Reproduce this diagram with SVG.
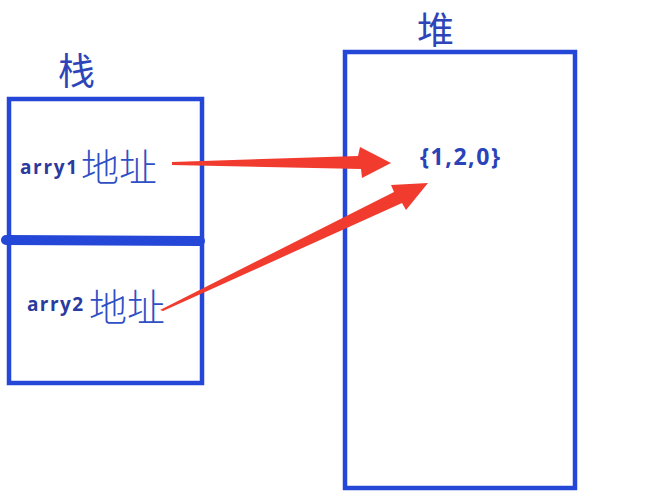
<svg xmlns="http://www.w3.org/2000/svg" width="652" height="502" viewBox="0 0 652 502">
<style>
.box{fill:none;stroke:#2447d8;stroke-width:4.5}
.title{font-family:"Noto Sans CJK SC","Noto Sans",sans-serif;fill:#2d45b8;font-size:37px}
.lbl{font-family:"Open Sans","Noto Sans",sans-serif;font-weight:bold;fill:#2a3a9e;font-size:19px}
.addr{font-family:"Noto Sans CJK SC",sans-serif;fill:#2f4fc4;font-size:38px;font-weight:300}
.arrow{fill:#f23b2f}
</style>
<rect width="652" height="502" fill="#ffffff"/>
<g id="stack">
<rect class="box" x="9" y="99" width="193" height="284"/>
<path d="M6 240 L200 241" stroke="#2447d8" stroke-width="10" stroke-linecap="round"/>
<text class="title" x="58" y="85">栈</text>
<text class="lbl" x="20" y="174" textLength="57">arry1</text>
<text class="addr" x="81" y="181">地址</text>
<text class="lbl" x="27" y="311" textLength="56">arry2</text>
<text class="addr" x="89" y="321">地址</text>
</g>
<g id="heap">
<rect class="box" x="345" y="52" width="230" height="436"/>
<text class="title" x="417" y="44">堆</text>
<text class="lbl" x="420" y="165" textLength="80" style="font-size:23px;fill:#2a43b8">{1,2,0}</text>
</g>
<g id="connectors">
<polygon class="arrow" points="172,162 358,156 360,147 391,163 362,178 361,169 172,165"/>
<polygon class="arrow" points="160,310 394,192 391,185 428,183 406,210 402,203 163,311"/>
</g>
</svg>
